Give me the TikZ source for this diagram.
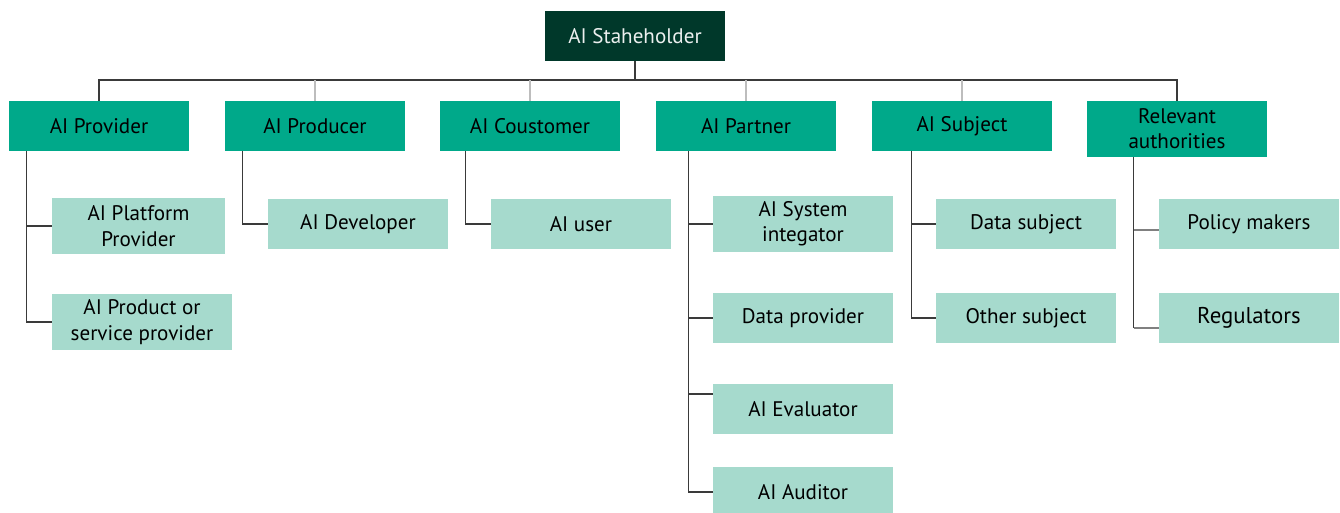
\documentclass[tikz,border=0pt]{standalone}
\usepackage{fontspec}
\setmainfont{PT Sans}
\usepackage{tikz}

\definecolor{rootgreen}{HTML}{00382A}
\definecolor{midgreen}{HTML}{00A98A}
\definecolor{palegreen}{HTML}{A6DACD}
\definecolor{linegray}{HTML}{3A3A3A}
\definecolor{tickgray}{HTML}{BDBDBD}

\begin{document}
\begin{tikzpicture}[
    x=0.02cm, y=-0.02cm,
    rootbox/.style={rectangle, fill=rootgreen, text=white!92!rootgreen, minimum width=3.6cm, minimum height=1cm, align=center, font=\fontsize{12}{14.4}\selectfont, inner sep=0pt},
    groupbox/.style={rectangle, fill=midgreen, text=black, minimum width=3.6cm, minimum height=1cm, align=center, font=\fontsize{12}{14.4}\selectfont, inner sep=0pt},
    rolebox/.style={rectangle, fill=palegreen, text=black, minimum width=3.6cm, minimum height=1cm, align=center, font=\fontsize{12}{14.4}\selectfont, inner sep=0pt},
    bar/.style={draw=linegray, line width=1.1pt},
    tree/.style={draw=linegray, line width=0.85pt},
    tick/.style={draw=tickgray, line width=0.6pt}
]
\useasboundingbox (0,0) rectangle (1340,512);

% Top of the tree
\node[rootbox] (root) at (635,36) {AI Staheholder};
\coordinate (bar) at (635,80);

% === Stakeholder groups ===
\node[groupbox] (prov) at (99,126) {AI Provider};
\node[groupbox] (prod) at (315,126) {AI Producer};
\node[groupbox] (cust) at (530,126) {AI Coustomer};
\node[groupbox] (part) at (746,126) {AI Partner};
\node[groupbox] (subj) at (962,126) {AI Subject};
\node[groupbox, minimum height=1.12cm] (auth) at (1177,129) {Relevant\\authorities};

% === Roles under each group ===
\node[rolebox, minimum width=3.46cm, minimum height=1.12cm] (platform) at (138.5,226) {AI Platform\\Provider};
\node[rolebox, minimum height=1.12cm] (service) at (142,322) {AI Product or\\service provider};

\node[rolebox] (developer) at (358,224) {AI Developer};

\node[rolebox] (user) at (581,224) {AI user};

\node[rolebox, minimum height=1.12cm] (integrator) at (803,224) {AI System\\integator};
\node[rolebox] (dataprov) at (803,318) {Data provider};
\node[rolebox] (evaluator) at (803,409) {AI Evaluator};
\node[rolebox] (auditor) at (803,492) {AI Auditor};

\node[rolebox] (datasubj) at (1026,224) {Data subject};
\node[rolebox] (othersubj) at (1026,318) {Other subject};

\node[rolebox] (policy) at (1249,224) {Policy makers};
\node[rolebox, font=\fontsize{13}{15.6}\selectfont] (regul) at (1249,318) {Regulators};

% === Connectors ===
\draw[tree] (root.south) -- (bar);
\draw[bar] (prov.north) -- (prov.north |- bar) -- (auth.north |- bar) -- (auth.north);
\foreach \g in {prod, cust, part, subj}
    \draw[tick] (\g.north) -- (\g.north |- bar);

% trunks start a little in from each group's left edge
\coordinate (provtrunk) at ([xshift=0.36cm]prov.south west);
\coordinate (prodtrunk) at ([xshift=0.36cm]prod.south west);
\coordinate (custtrunk) at ([xshift=0.52cm]cust.south west);
\coordinate (parttrunk) at ([xshift=0.66cm]part.south west);
\coordinate (subjtrunk) at ([xshift=0.8cm]subj.south west);
\coordinate (authtrunk) at ([xshift=0.94cm]auth.south west);

% a few branches meet their box off centre
\coordinate (evalin) at ([yshift=0.3cm]evaluator.west);
\coordinate (policyin) at ([yshift=-0.12cm]policy.west);
\coordinate (regulin) at ([yshift=-0.2cm]regul.west);

\draw[tree] (provtrunk) |- (platform.west);
\draw[tree] (provtrunk) |- (service.west);
\draw[tree] (prodtrunk) |- (developer.west);
\draw[tree] (custtrunk) |- (user.west);
\draw[tree] (parttrunk) |- (integrator.west);
\draw[tree] (parttrunk) |- (dataprov.west);
\draw[tree] (parttrunk) |- (evalin);
\draw[tree] (parttrunk) |- (auditor.west);
\draw[tree] (subjtrunk) |- (datasubj.west);
\draw[tree] (subjtrunk) |- (othersubj.west);
\draw[tree] (authtrunk) -- (authtrunk |- regulin);
\draw[tree, draw=gray] (authtrunk |- policyin) -- (policyin);
\draw[tree, draw=gray] (authtrunk |- regulin) -- (regulin);

\end{tikzpicture}
\end{document}
